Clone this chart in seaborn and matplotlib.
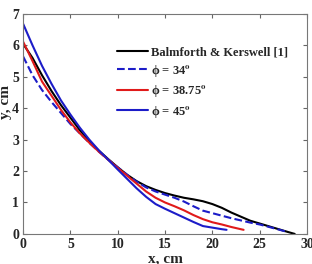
import numpy as np
import pandas as pd
import seaborn as sns
import matplotlib.pyplot as plt

# ---------------------------------------------------------
# DATA
# ---------------------------------------------------------

bk_x = [0, 1, 2, 3, 4, 5, 6, 7, 8, 9, 10, 11, 12, 13, 14, 15, 16, 17, 18, 19,
        20, 21, 22, 23, 24, 25, 26, 27, 28, 28.7]
bk_y = [6.05, 5.6, 5.05, 4.55, 4.1, 3.7, 3.3, 2.95, 2.65, 2.38, 2.12, 1.88, 1.68,
        1.52, 1.4, 1.3, 1.22, 1.15, 1.1, 1.04, 0.95, 0.83, 0.68, 0.55, 0.42,
        0.33, 0.24, 0.15, 0.06, 0.0]

phi34_x = [0, 1, 2, 3, 4, 5, 6, 7, 8, 9, 10, 11, 12, 13, 14, 15, 16, 17, 18,
           19, 20, 21, 22, 23, 24, 25, 26, 27, 27.7]
phi34_y = [5.65, 5.05, 4.58, 4.2, 3.85, 3.5, 3.2, 2.9, 2.62, 2.36, 2.12, 1.88,
           1.66, 1.48, 1.35, 1.25, 1.15, 1.03, 0.88, 0.74, 0.66, 0.58, 0.5, 0.43,
           0.36, 0.3, 0.22, 0.14, 0.08]

phi3875_x = [0, 1, 2, 3, 4, 5, 6, 7, 8, 9, 10, 11, 12, 13, 14, 15, 16, 17, 18,
             19, 20, 21, 22, 23, 23.3]
phi3875_y = [6.12, 5.5, 4.85, 4.4, 3.95, 3.55, 3.2, 2.9, 2.62, 2.36, 2.1, 1.85,
             1.6, 1.35, 1.15, 1.0, 0.88, 0.75, 0.6, 0.47, 0.37, 0.3, 0.22, 0.15,
             0.13]

phi45_x = [0, 1, 2, 3, 4, 5, 6, 7, 8, 9, 10, 11, 12, 13, 14, 15, 16, 17, 18,
           19, 20, 21, 21.5]
phi45_y = [6.69, 6.0, 5.35, 4.78, 4.25, 3.8, 3.38, 3.0, 2.66, 2.36, 2.05, 1.75,
           1.45, 1.18, 0.95, 0.8, 0.66, 0.52, 0.38, 0.25, 0.2, 0.15, 0.13]

labels = ["Balmforth & Kerswell [1]", r"ϕ = 34$^{o}$", r"ϕ = 38.75$^{o}$",
          r"ϕ = 45$^{o}$"]
x_ticks = [0, 5, 10, 15, 20, 25, 30]
y_ticks = [0, 1, 2, 3, 4, 5, 6, 7]

# ---------------------------------------------------------
# PLOT
# ---------------------------------------------------------

sns.set_style("ticks")
plt.rcParams["font.family"] = ["Liberation Serif", "DejaVu Serif"]
plt.rcParams["font.weight"] = "bold"
plt.rcParams["mathtext.default"] = "bf"
plt.rcParams["mathtext.fontset"] = "stix"

fig = plt.figure(figsize=(3.12, 2.64), dpi=100)
ax = fig.add_axes([0.074, 0.114, 0.91, 0.833])

series = [
    (bk_x, bk_y, "black", "-"),
    (phi34_x, phi34_y, "#1c1cc8", "--"),
    (phi3875_x, phi3875_y, "#e01a1a", "-"),
    (phi45_x, phi45_y, "#1c1cc8", "-"),
]
for (xs, ys, col, ls), lab in zip(series, labels):
    df = pd.DataFrame({"x": xs, "y": ys})
    sns.lineplot(data=df, x="x", y="y", ax=ax, color=col, linestyle=ls,
                 linewidth=1.5, label=lab, sort=False, estimator=None)

ax.set_xlim(0, 30)
ax.set_ylim(0, 7)
ax.set_xticks(x_ticks)
ax.set_yticks(y_ticks)
ax.tick_params(direction="in", length=3, width=0.8, top=True, right=True,
               labelsize=10, pad=3, color="#666666")
for lbl in ax.get_xticklabels() + ax.get_yticklabels():
    lbl.set_fontweight("bold")
for sp in ax.spines.values():
    sp.set_color("#777777")
    sp.set_linewidth(0.8)

ax.set_xlabel("x, cm", fontsize=11, fontweight="bold", labelpad=1)
ax.set_ylabel("y, cm", fontsize=11, fontweight="bold")
ax.yaxis.set_label_coords(-0.04, 0.6)

ax.legend(loc="upper left", bbox_to_anchor=(0.29, 0.905), frameon=False,
          handlelength=2.5, handletextpad=0.25, labelspacing=0.36,
          prop={"weight": "bold", "size": 9})

fig.savefig("out.png", dpi=100)
